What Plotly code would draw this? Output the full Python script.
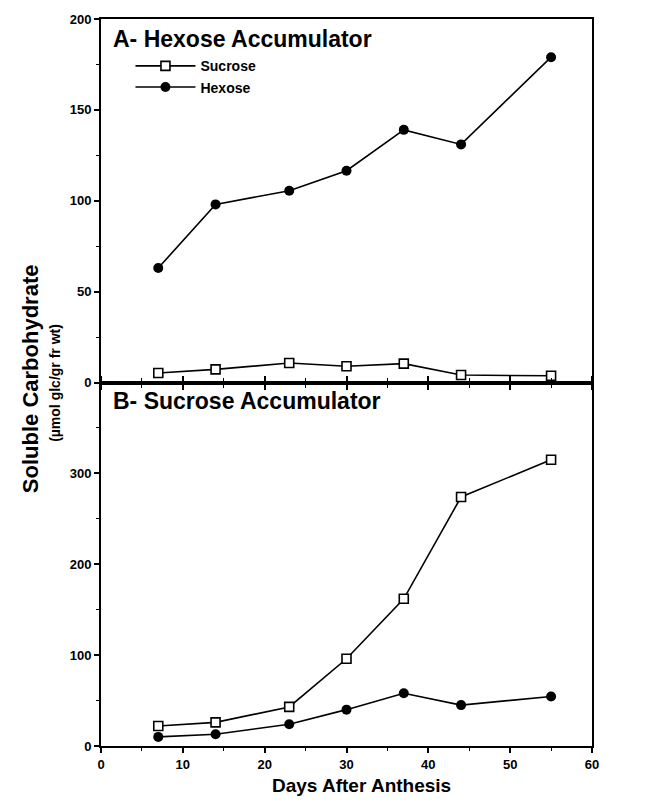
import plotly.graph_objects as go
from plotly.subplots import make_subplots

days = [7, 14, 23, 30, 37, 44, 55]

# Panel A - Hexose accumulator
a_sucrose = [5.2, 7.2, 10.7, 8.9, 10.4, 4.1, 3.7]
a_hexose = [63, 98, 105.5, 116.5, 139, 131, 179]

# Panel B - Sucrose accumulator
b_sucrose = [22, 26, 43, 96, 162, 274, 315]
b_hexose = [10, 13, 24, 40, 58, 45, 54.5]

x_ticks = [0, 10, 20, 30, 40, 50, 60]
a_yticks = [0, 50, 100, 150, 200]
b_yticks = [0, 100, 200, 300]

FONT = "Liberation Sans, Arial, sans-serif"

fig = make_subplots(rows=2, cols=1, shared_xaxes=False, vertical_spacing=0)

sq = dict(symbol="square", size=9, color="white", line=dict(color="black", width=1.6))
ci = dict(symbol="circle", size=10, color="black", line=dict(color="black", width=0))
ln = dict(color="black", width=1.6)

fig.add_trace(go.Scatter(x=days, y=a_sucrose, mode="lines+markers", name="Sucrose",
                         marker=sq, line=ln, showlegend=True), row=1, col=1)
fig.add_trace(go.Scatter(x=days, y=a_hexose, mode="lines+markers", name="Hexose",
                         marker=ci, line=ln, showlegend=True), row=1, col=1)
fig.add_trace(go.Scatter(x=days, y=b_hexose, mode="lines+markers", name="Hexose",
                         marker=ci, line=ln, showlegend=False), row=2, col=1)
fig.add_trace(go.Scatter(x=days, y=b_sucrose, mode="lines+markers", name="Sucrose",
                         marker=sq, line=ln, showlegend=False), row=2, col=1)

tickfont = dict(family=FONT, size=13, color="black", weight="bold")

common_x = dict(range=[0, 60], tickvals=x_ticks, showline=True, linecolor="black",
                linewidth=2, ticks="outside", ticklen=5, tickwidth=1.5, tickcolor="black",
                minor=dict(dtick=5, ticks="outside", ticklen=3, tickwidth=1.2, tickcolor="black"),
                showgrid=False, zeroline=False, tickfont=tickfont)
fig.update_xaxes(**common_x, showticklabels=False, mirror=True, row=1, col=1)
fig.update_xaxes(**common_x, showticklabels=True, mirror="ticks", row=2, col=1)

common_y = dict(showline=True, linecolor="black", linewidth=2, mirror=True,
                ticks="outside", ticklen=5, tickwidth=1.5, tickcolor="black",
                showgrid=False, zeroline=False, tickfont=tickfont)
fig.update_yaxes(**common_y, range=[0, 200], tickvals=a_yticks,
                 minor=dict(dtick=25, ticks="outside", ticklen=3, tickwidth=1.2, tickcolor="black"),
                 row=1, col=1)
fig.update_yaxes(**common_y, range=[0, 400], tickvals=b_yticks,
                 minor=dict(dtick=50, ticks="outside", ticklen=3, tickwidth=1.2, tickcolor="black"),
                 row=2, col=1)

fig.update_layout(
    width=649, height=803,
    margin=dict(l=101, r=57, t=15, b=57),
    paper_bgcolor="white", plot_bgcolor="white",
    font=dict(family=FONT, color="black"),
    showlegend=True,
    legend=dict(x=0.06, y=0.957, xanchor="left", yanchor="top",
                bgcolor="rgba(0,0,0,0)", borderwidth=0,
                font=dict(family=FONT, size=14, color="black", weight="bold"),
                tracegroupgap=0, itemwidth=60),
    annotations=[
        dict(text="<b>A- Hexose Accumulator</b>", xref="paper", yref="paper",
             x=0.02, y=0.993, xanchor="left", yanchor="top", showarrow=False,
             font=dict(family=FONT, size=23, color="black")),
        dict(text="<b>B- Sucrose Accumulator</b>", xref="paper", yref="paper",
             x=0.02, y=0.495, xanchor="left", yanchor="top", showarrow=False,
             font=dict(family=FONT, size=23, color="black")),
        dict(text="<b>Soluble Carbohydrate</b>", xref="paper", yref="paper",
             x=-0.142, y=0.505, xanchor="center", yanchor="middle", textangle=-90,
             showarrow=False, font=dict(family=FONT, size=22, color="black")),
        dict(text="(µmol glc/gr fr wt)", xref="paper", yref="paper",
             x=-0.095, y=0.5, xanchor="center", yanchor="middle", textangle=-90,
             showarrow=False, font=dict(family=FONT, size=14, color="black", weight="bold")),
        dict(text="<b>Days After Anthesis</b>", xref="paper", yref="paper",
             x=0.53, y=-0.054, xanchor="center", yanchor="middle",
             showarrow=False, font=dict(family=FONT, size=19, color="black")),
    ],
)

fig.write_html("out.html")
